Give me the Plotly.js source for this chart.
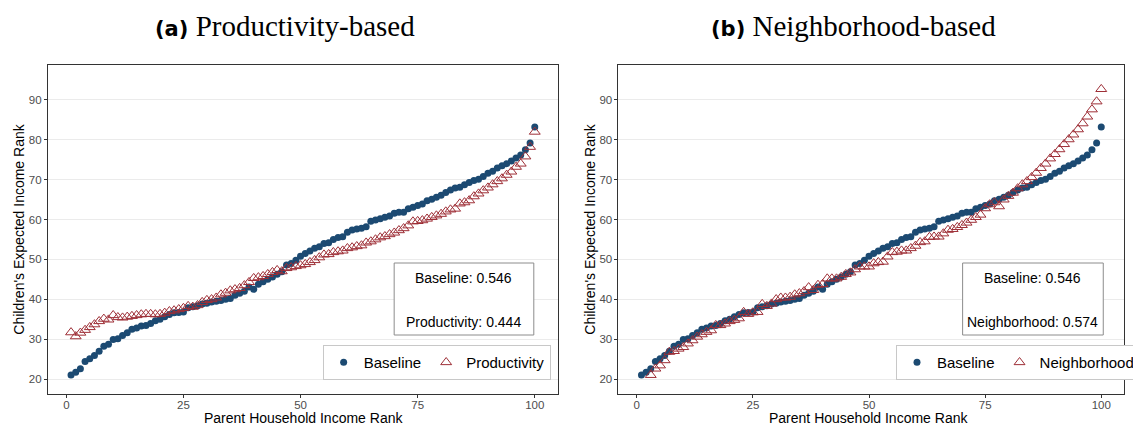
<!DOCTYPE html>
<html>
<head>
<meta charset="utf-8">
<script src="https://cdn.plot.ly/plotly-3.0.1.min.js"></script>
<style>
html,body{margin:0;padding:0;background:#fff;overflow:hidden;width:1133px;height:425px;}
#chart{width:1140px;height:425px;}
</style>
</head>
<body>
<div id="chart"></div>
<script>
// Parent household income rank (x)
const ranks = Array.from({length: 100}, (_, k) => k + 1);

// Baseline series (same in both panels)
const baseline = [
21.0,21.7,22.6,24.4,25.1,25.9,27.0,28.2,28.7,29.9,
30.1,30.9,31.6,32.5,32.8,33.3,33.4,33.9,34.6,35.0,
35.6,36.2,36.6,36.7,36.8,37.9,38.1,38.4,38.8,39.0,
39.3,39.5,39.7,40.0,40.2,41.0,41.5,42.0,43.1,42.5,
43.8,44.4,45.0,45.6,46.3,46.9,48.6,49.0,49.8,50.8,
51.5,52.1,52.8,53.2,54.0,54.2,55.0,55.5,55.7,56.8,
57.4,57.6,57.8,58.2,59.6,59.9,60.2,60.6,60.9,61.6,
61.8,61.8,62.7,63.1,63.5,63.9,64.7,65.1,65.6,66.1,
66.8,67.4,67.9,68.1,68.7,69.3,69.8,70.1,70.8,71.6,
72.1,72.9,73.5,74.0,74.7,75.4,76.2,77.5,79.2,83.2];

// Productivity-based series (panel a)
const productivity = [
31.7,30.7,31.6,32.3,33.0,33.7,34.5,35.1,34.9,36.0,
35.5,35.4,35.6,35.8,36.0,36.2,36.3,36.3,36.2,36.3,
36.6,37.0,37.2,37.5,37.8,38.3,38.1,38.5,39.3,39.8,
40.0,40.4,41.2,41.6,42.2,42.5,42.8,43.5,44.3,45.3,
45.5,45.8,46.3,46.8,47.3,47.0,47.8,48.0,48.3,48.5,
48.8,49.3,49.8,50.5,51.2,51.3,51.8,52.0,52.2,52.8,
53.0,53.3,53.5,54.2,54.5,55.0,55.5,55.8,56.3,56.7,
57.3,57.8,58.5,59.5,59.6,59.8,60.2,60.6,61.0,61.4,
62.0,62.5,62.7,64.0,64.3,64.8,65.8,66.5,67.3,68.0,
68.8,69.6,70.3,71.2,72.0,73.2,74.0,75.8,78.2,82.0];

// Neighborhood-based series (panel b); first two ranks fall below the axis limit
const neighborhood = [
null,null,21.0,22.6,23.4,24.7,26.8,27.0,27.6,28.0,
28.9,29.7,30.6,31.2,31.8,32.2,33.5,33.5,33.9,34.5,
34.8,35.2,36.8,36.3,36.7,36.8,38.8,38.3,38.9,40.0,
40.4,40.4,40.6,41.2,41.5,42.0,43.0,42.3,43.6,43.8,
45.2,45.2,45.2,45.6,46.3,46.7,47.5,48.2,48.2,48.2,
49.0,49.3,49.4,50.7,51.8,51.9,52.2,52.2,52.8,53.4,
54.3,54.5,55.6,55.7,55.7,56.5,57.4,57.6,58.1,58.6,
59.2,59.9,60.6,61.2,62.8,63.8,64.3,63.3,65.0,65.9,
66.7,67.8,68.8,69.6,70.6,71.7,72.9,74.0,75.3,76.4,
77.6,78.9,80.1,81.3,82.6,84.1,85.8,87.6,89.6,92.7];

const xTicks = [0, 25, 50, 75, 100];
const yTicks = [20, 30, 40, 50, 60, 70, 80, 90];
const panelTitles = ["(a)", "Productivity-based", "(b)", "Neighborhood-based"];
const boxTextA = ["Baseline: 0.546", "Productivity: 0.444"];
const boxTextB = ["Baseline: 0.546", "Neighborhood: 0.574"];
const xTitle = "Parent Household Income Rank";
const yTitle = "Children's Expected Income Rank";

const W = 1140, H = 425;
const px = v => v / W;
const py = v => 1 - v / H;

const blue = '#1c4a72';
const red = '#9e2f37';
const dotMarker = {symbol: 'circle', size: 7, color: blue};
const triMarker = {symbol: 'triangle-up-open', size: 9.5, color: red, line: {color: red, width: 1}};

const traces = [
  {x: ranks, y: baseline, type: 'scatter', mode: 'markers', name: 'Baseline', marker: dotMarker, xaxis: 'x', yaxis: 'y', legend: 'legend'},
  {x: ranks, y: productivity, type: 'scatter', mode: 'markers', name: 'Productivity', marker: triMarker, xaxis: 'x', yaxis: 'y', legend: 'legend'},
  {x: ranks, y: baseline, type: 'scatter', mode: 'markers', name: 'Baseline', marker: dotMarker, xaxis: 'x2', yaxis: 'y2', legend: 'legend2'},
  {x: ranks, y: neighborhood, type: 'scatter', mode: 'markers', name: 'Neighborhood', marker: triMarker, xaxis: 'x2', yaxis: 'y2', legend: 'legend2'}
];

const sans = 'Liberation Sans, Arial, sans-serif';
const tickFont = {family: sans, size: 11.5, color: '#4d4d4d'};
const titleFont = {family: sans, size: 14, color: '#000'};
const yDomain = [py(394), py(65)];

function xAxis(domain, anchor) {
  return {
    domain: domain, anchor: anchor, range: [-3.95, 104.95], tickmode: 'array', tickvals: xTicks,
    showgrid: false, zeroline: false, showline: true, mirror: true, linecolor: '#333', linewidth: 1,
    ticks: 'outside', ticklen: 3, tickcolor: '#333', tickfont: tickFont, ticklabelstandoff: -3
  };
}
function yAxis(anchor) {
  return {
    domain: yDomain, anchor: anchor, range: [16.25, 98.75], tickmode: 'array', tickvals: yTicks,
    showgrid: true, gridcolor: '#ebebeb', gridwidth: 1, zeroline: false,
    showline: true, mirror: true, linecolor: '#333', linewidth: 1,
    ticks: 'outside', ticklen: 3, tickcolor: '#333', tickfont: tickFont,
    title: {text: yTitle, font: titleFont, standoff: 0}
  };
}

const serif = 'Liberation Serif, Times New Roman, serif';
const boldSpan = t => '<span style="font-family:DejaVu Sans;font-weight:bold;font-size:21px">' + t + '</span> ';

const boxFont = {family: sans, size: 14, color: '#000'};
function textAt(cx, y, t, font) {
  return {xref: 'paper', yref: 'paper', x: px(cx), y: py(y), xanchor: 'center', yanchor: 'middle', text: t, showarrow: false, font: font};
}

const legendStyle = {
  orientation: 'h', xref: 'paper', yref: 'paper', y: py(345), yanchor: 'top',
  bgcolor: '#fff', bordercolor: '#c8c8c8', borderwidth: 1, tracegroupgap: 0,
  font: {family: sans, size: 15, color: '#000'}
};

const layout = {
  width: W, height: H,
  margin: {l: 0, r: 0, t: 0, b: 0},
  paper_bgcolor: '#fff', plot_bgcolor: '#fff',
  showlegend: true,
  xaxis: xAxis([px(48.3), px(563.4)], 'y'),
  yaxis: yAxis('x'),
  xaxis2: xAxis([px(624.5), px(1135.2)], 'y2'),
  yaxis2: yAxis('x2'),
  legend: Object.assign({}, legendStyle, {x: px(556), xanchor: 'right'}),
  legend2: Object.assign({}, legendStyle, {x: px(905), xanchor: 'left'}),
  shapes: [
    {type: 'rect', xref: 'paper', yref: 'paper', x0: px(398), x1: px(539), y0: py(335), y1: py(263), line: {color: '#8c8c8c', width: 1}, fillcolor: '#fff', layer: 'above'},
    {type: 'rect', xref: 'paper', yref: 'paper', x0: px(972), x1: px(1114), y0: py(335), y1: py(263), line: {color: '#8c8c8c', width: 1}, fillcolor: '#fff', layer: 'above'}
  ],
  annotations: [
    textAt(288, 26, boldSpan(panelTitles[0]) + panelTitles[1], {family: serif, size: 29, color: '#000'}),
    textAt(862, 26, boldSpan(panelTitles[2]) + panelTitles[3], {family: serif, size: 29, color: '#000'}),
    textAt(306, 418, xTitle, titleFont),
    textAt(877, 418, xTitle, titleFont),
    textAt(468.5, 278, boxTextA[0], boxFont),
    textAt(468.5, 322, boxTextA[1], boxFont),
    textAt(1043, 278, boxTextB[0], boxFont),
    textAt(1043, 322, boxTextB[1], boxFont)
  ]
};

Plotly.newPlot('chart', traces, layout, {displayModeBar: false, staticPlot: true});
</script>
</body>
</html>
